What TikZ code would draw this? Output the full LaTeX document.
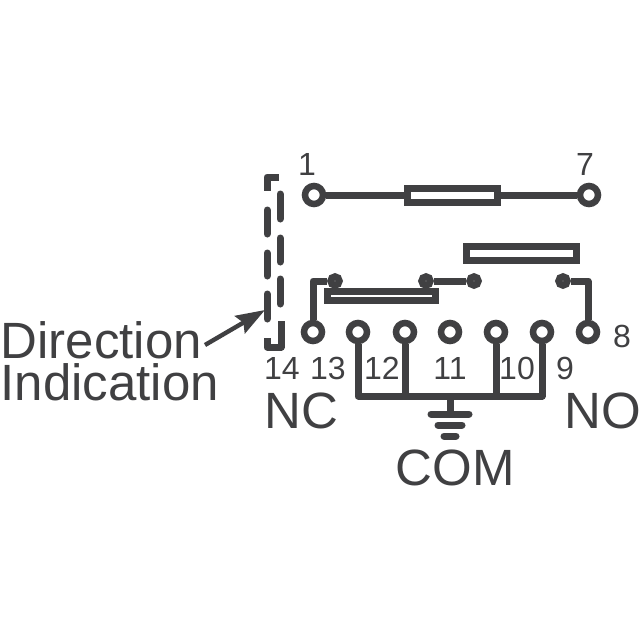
\documentclass[tikz,border=0pt]{standalone}
\usepackage{fontspec}
\setmainfont{Liberation Sans}
\usetikzlibrary{arrows.meta}
\definecolor{relaygray}{HTML}{404042}
\tikzset{
	wire/.style={draw=relaygray,line width=7pt,line join=round},
	term/.style={circle,draw=relaygray,fill=white,line width=6.5pt,inner sep=0pt,minimum size=18pt},
	joint/.style={circle,draw=relaygray,fill=white,line width=7pt,inner sep=0pt,minimum size=8.5pt},
	coil/.style={rectangle,draw=relaygray,fill=white,line width=7pt,inner sep=0pt},
	pinlabel/.style={text=relaygray,font=\fontsize{32}{32}\selectfont,anchor=base},
	biglabel/.style={text=relaygray,font=\fontsize{51}{51}\selectfont,anchor=base west}
}
\begin{document}
\begin{tikzpicture}[x=1pt,y=-1pt]
	\useasboundingbox (0,0) rectangle (640,640);
	% terminals
	\node[term] (t1) at (314,195) {};
	\node[term] (t7) at (589,195) {};
	\foreach \n/\x in {14/313,13/358,12/405,11/450,10/496,9/542,8/588}
	\node[term] (t\n) at (\x,332) {};
	% coils
	\node[coil,minimum width=90pt,minimum height=14pt] (coila) at (452,195) {};
	\node[coil,minimum width=110pt,minimum height=14pt] (coilb) at (521,253) {};
	\node[coil,minimum width=108pt,minimum height=9pt] (coilc) at (381,295.5) {};
	% contacts
	\node[joint] (ja) at (335,281) {};
	\node[joint] (jb) at (426,281) {};
	\node[joint] (jc) at (474,281) {};
	\node[joint] (jd) at (563,281) {};
	\draw[wire] (t1) -- (coila) -- (t7);
	\draw[wire] (t14) |- (ja);
	\draw[wire] (jb) -- (jc);
	\draw[wire] (jd) -| (t8);
	% common bus
	\coordinate (busl) at (358,396);
	\coordinate (busr) at (542,396);
	\coordinate (gnd) at (450,414);
	\draw[wire] (t13) -- (busl) -- (busr) -- (t9);
	\draw[wire] (t12) -- (t12 |- busl);
	\draw[wire] (t10) -- (t10 |- busl);
	\draw[wire] (gnd |- busl) -- (gnd);
	\foreach \y/\w in {414/19,425/12,436/6}
	\draw[wire,line cap=round] (450-\w,\y) -- (450+\w,\y);
	% direction marker
	\draw[wire] (279,177) -- (267,177) -- (267,191);
	\foreach \a/\b in {210/234,253/276,294/319}
	\draw[wire,line cap=round] (267,\a) -- (267,\b);
	\draw[wire] (267,338) -- (267,347) -- (281,347) -- (281,321);
	\foreach \a/\b in {194/219,238/262,279/304}
	\draw[wire,line cap=round] (280,\a) -- (280,\b);
	% labels
	\node[pinlabel] (l1) at (307,175) {1};
	\node[pinlabel] (l7) at (585,175) {7};
	\node[pinlabel] (l8) at (622,347) {8};
	\node[pinlabel] (l14) at (282,379) {14};
	\node[pinlabel] (l13) at (328,379) {13};
	\node[pinlabel] (l12) at (382,379) {12};
	\node[pinlabel] (l11) at (450,379) {11};
	\node[pinlabel] (l10) at (517,379) {10};
	\node[pinlabel] (l9) at (565,379) {9};
	\node[biglabel] (nc) at (261,428) {NC};
	\node[biglabel] (no) at (561,428) {NO};
	\node[biglabel] (com) at (392,485) {COM};
	\node[biglabel] (dir) at (-3,358) {Direction};
	\node[biglabel] (ind) at (-3,400) {Indication};
	\coordinate (arrowtail) at (205,345);
	\coordinate (arrowend) at (265,310);
	\draw[draw=relaygray,fill=relaygray,line width=4.4pt,-{Stealth[length=29pt,width=20pt,inset=4pt]}] (arrowtail) -- (arrowend);
\end{tikzpicture}
\end{document}
